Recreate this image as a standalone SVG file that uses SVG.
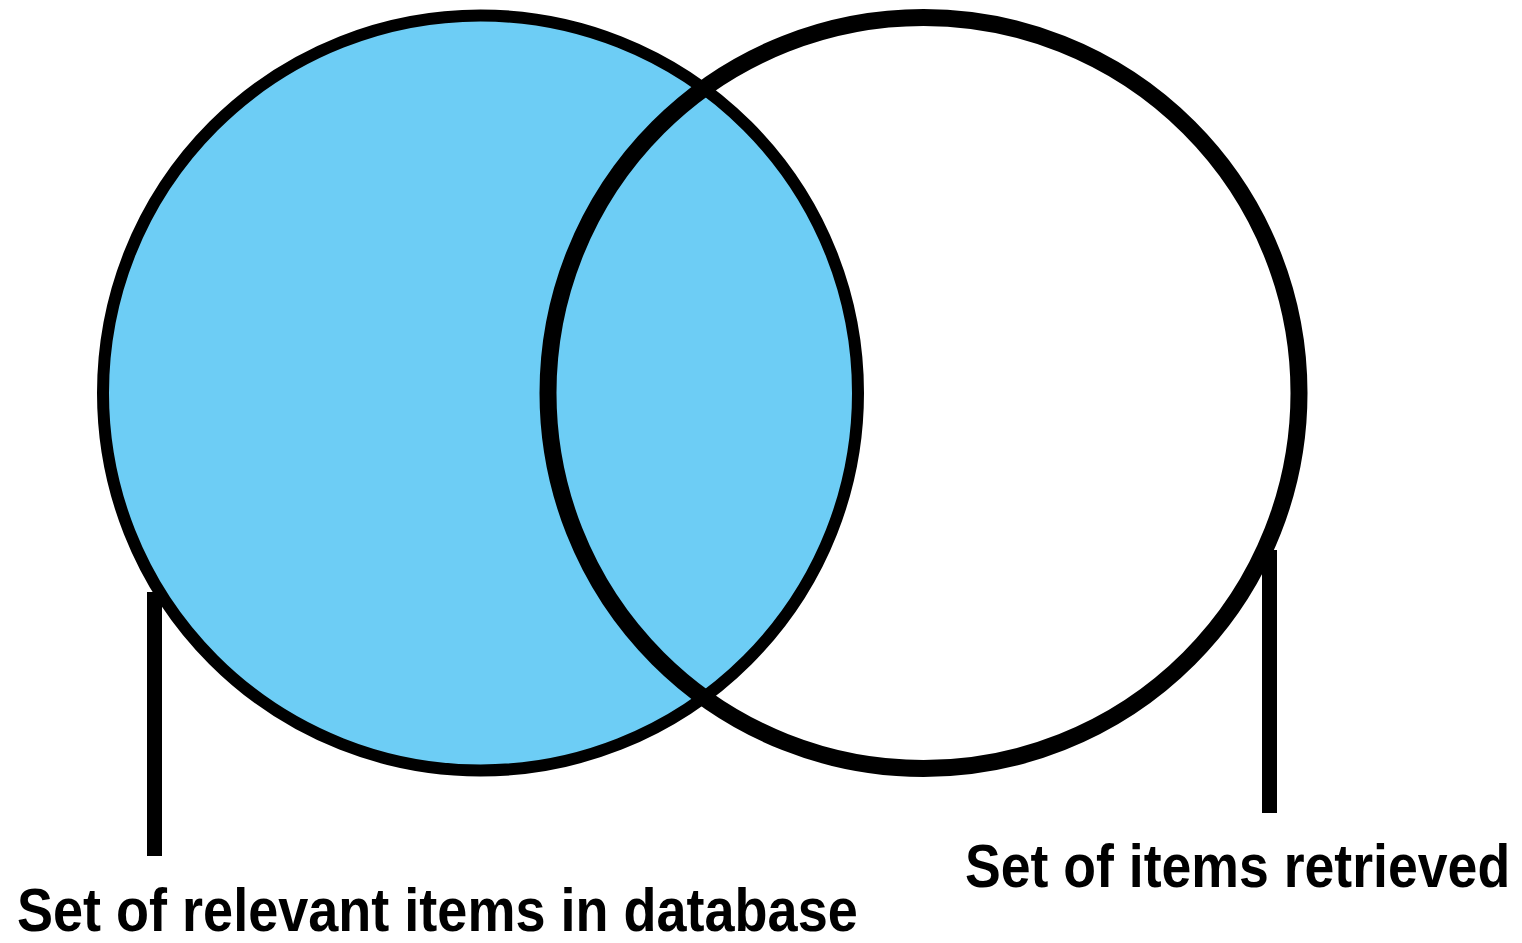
<svg xmlns="http://www.w3.org/2000/svg" width="1522" height="943" viewBox="0 0 1522 943">
  <style>
    .ring { stroke: #000; }
    .lead { stroke: #000; stroke-width: 15; fill: none; }
    .label { font-family: "Liberation Sans", Arial, sans-serif; font-weight: bold; font-size: 61px; fill: #000; }
  </style>
  <rect width="1522" height="943" fill="#fff"/>
  <g id="relevant-set">
    <circle class="ring" cx="480.5" cy="393" r="377.5" fill="#6DCDF5" stroke-width="12"/>
  </g>
  <g id="retrieved-set">
    <circle class="ring" cx="923.5" cy="393" r="375.5" fill="none" stroke-width="17"/>
  </g>
  <g id="connectors">
    <line class="lead" x1="154.5" y1="592" x2="154.5" y2="856"/>
    <line class="lead" x1="1269.5" y1="550" x2="1269.5" y2="813"/>
  </g>
  <!-- labels are squeezed horizontally to a condensed bold look -->
  <g id="label-relevant">
    <text class="label" transform="translate(17,931) scale(0.886,1)">Set of relevant items in database</text>
  </g>
  <g id="label-retrieved">
    <text class="label" transform="translate(965,887) scale(0.879,1)">Set of items retrieved</text>
  </g>
</svg>
